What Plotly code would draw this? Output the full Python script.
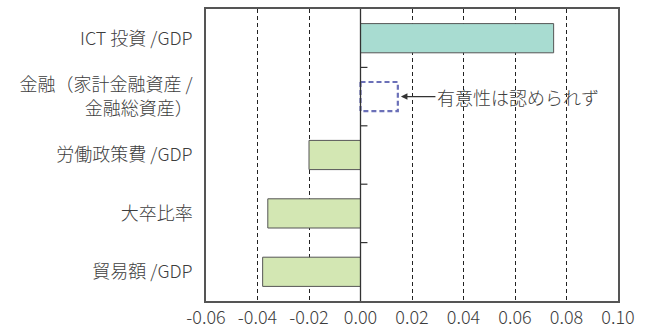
import plotly.graph_objects as go

categories = ["ICT 投資 /GDP", "金融（家計金融資産 /<br>金融総資産）", "労働政策費 /GDP", "大卒比率", "貿易額 /GDP"]
values = [0.075, 0.0145, -0.020, -0.036, -0.038]
significant = [True, False, True, True, True]
bar_colors = ["#a8dcd1", "#ffffff", "#d3e7b3", "#d3e7b3", "#d3e7b3"]
x_ticks = [-0.06, -0.04, -0.02, 0.00, 0.02, 0.04, 0.06, 0.08, 0.10]
x_tick_labels = ["-0.06", "-0.04", "-0.02", "0.00", "0.02", "0.04", "0.06", "0.08", "0.10"]
note_text = "有意性は認められず"

FONT = "Noto Sans CJK JP"
TXT = "#3d3d3d"
bar_w = 0.5

ys = list(range(len(categories)))
sig_y = [y for y, s in zip(ys, significant) if s]
sig_v = [v for v, s in zip(values, significant) if s]
sig_c = [c for c, s in zip(bar_colors, significant) if s]

fig = go.Figure()
fig.add_trace(go.Bar(
    x=sig_v, y=sig_y, orientation="h", width=bar_w,
    marker=dict(color=sig_c, line=dict(color="#555555", width=1)),
    hoverinfo="skip", showlegend=False,
))

shapes = []
# non-significant dashed box
for y, v, s in zip(ys, values, significant):
    if not s:
        shapes.append(dict(type="rect", xref="x", yref="y", x0=0, x1=v,
                           y0=y - bar_w / 2, y1=y + bar_w / 2,
                           line=dict(color="#6b70b8", width=2.2, dash="5px,3px"),
                           fillcolor="rgba(0,0,0,0)", layer="above"))
# zero line
shapes.append(dict(type="line", xref="x", yref="paper", x0=0, x1=0, y0=0, y1=1,
                   line=dict(color="#333333", width=1.3), layer="above"))
# small ticks at category boundaries on the zero line
for i in range(len(categories) - 1):
    shapes.append(dict(type="line", xref="x", yref="y", x0=0, x1=0.0027,
                       y0=i + 0.5, y1=i + 0.5,
                       line=dict(color="#333333", width=1.2), layer="above"))

annotations = []
for y, v, s in zip(ys, values, significant):
    if not s:
        annotations.append(dict(
            x=v + 0.0012, y=y, xref="x", yref="y",
            text=note_text, showarrow=True, arrowhead=2, arrowsize=1,
            arrowwidth=1.3, arrowcolor="#333333",
            ax=117, ay=0, font=dict(family=FONT, size=18, color=TXT, weight=300),
        ))

fig.update_layout(
    width=648, height=336,
    margin=dict(l=206, r=30, t=7, b=26),
    paper_bgcolor="white", plot_bgcolor="white",
    font=dict(family=FONT, size=18, color=TXT, weight=300),
    shapes=shapes, annotations=annotations,
    bargap=0.5,
)
fig.update_xaxes(
    range=[-0.06, 0.10], tickvals=x_ticks, ticktext=x_tick_labels,
    showgrid=True, gridcolor="#222222", gridwidth=1, griddash="4px,3px",
    zeroline=False, showline=True, linecolor="#555555", linewidth=1.5, mirror=True,
    ticks="", tickfont=dict(family=FONT, size=18, color=TXT, weight=300),
)
fig.update_yaxes(
    range=[len(categories) - 0.5, -0.5], tickvals=ys, ticktext=categories,
    showgrid=False, zeroline=False, showline=True, linecolor="#555555",
    linewidth=1.5, mirror=True, ticks="", ticklabelstandoff=8,
    tickfont=dict(family=FONT, size=18, color=TXT, weight=300),
)

fig.write_html("out.html")
